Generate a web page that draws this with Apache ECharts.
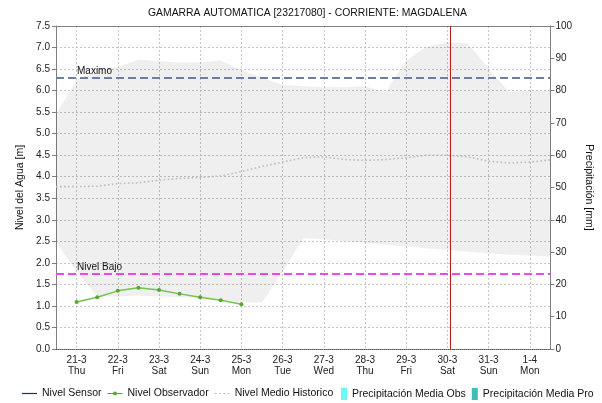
<!DOCTYPE html>
<html>
<head>
<meta charset="utf-8">
<title>GAMARRA AUTOMATICA [23217080]</title>
<script src="https://cdn.jsdelivr.net/npm/echarts@6/dist/echarts.min.js"></script>
<style>
  html, body { margin: 0; padding: 0; background: #fff; }
  #main { width: 602px; height: 403px; }
</style>
</head>
<body>
<div id="main"></div>
<script>
// Day ticks on the time axis (0 = 21-3) and their two-line labels
const dayTicks = [0, 1, 2, 3, 4, 5, 6, 7, 8, 9, 10, 11];
const dayLabels = ['21-3\nThu', '22-3\nFri', '23-3\nSat', '24-3\nSun', '25-3\nMon', '26-3\nTue',
                   '27-3\nWed', '28-3\nThu', '29-3\nFri', '30-3\nSat', '31-3\nSun', '1-4\nMon'];

// Historical statistics, sampled every half day
const histSteps = [-0.5, 0, 0.5, 1, 1.5, 2, 2.5, 3, 3.5, 4, 4.5, 5, 5.5,
                   6, 6.5, 7, 7.5, 8, 8.5, 9, 9.5, 10, 10.5, 11, 11.5];
const histUpper = [5.45, 6.25, 6.45, 6.55, 6.72, 6.68, 6.65, 6.66, 6.70, 6.48, 6.30, 6.13, 6.10,
                   6.08, 6.08, 6.10, 5.97, 6.70, 7.03, 7.12, 7.10, 6.51, 5.97, 6.00, 6.00];
const histLower = [2.49, 1.80, 1.22, 1.22, 1.24, 1.22, 1.20, 1.18, 1.12, 1.08, 1.08, 1.78, 2.57,
                   2.55, 2.50, 2.46, 2.42, 2.38, 2.34, 2.30, 2.26, 2.22, 2.19, 2.17, 2.14];
const histMean  = [3.77, 3.77, 3.78, 3.84, 3.86, 3.92, 3.96, 3.98, 4.02, 4.12, 4.24, 4.34, 4.44,
                   4.46, 4.40, 4.38, 4.40, 4.44, 4.50, 4.50, 4.46, 4.36, 4.32, 4.34, 4.39];

// Observer readings (twice a day)
const observerSteps  = [0, 0.5, 1, 1.5, 2, 2.5, 3, 3.5, 4];
const observerLevels = [1.09, 1.20, 1.35, 1.42, 1.37, 1.28, 1.20, 1.13, 1.04];

// Reference levels and current time marker
const maxLevel = 6.3;
const lowLevel = 1.75;
const nowStep = 9.08;

const pairs = (xs, ys) => xs.map((x, i) => [x, ys[i]]);

const FONT = '"Liberation Sans", Arial, sans-serif';
const gridLine = { color: '#c6c6c6', width: 1, type: [2, 2] };
const boxLine = { color: '#808080', width: 1 };

// Legend glyphs: plain line, line with dot, dotted line, slim bar
const iconLine = 'path://M0,5.4H15V6.6H0Z';
const iconLineDot = 'path://M0,5.4H5.6V6.6H0Z M9.4,5.4H15V6.6H9.4Z M5.5,6a2,2 0 1,0 4,0a2,2 0 1,0 -4,0Z';
const iconDotted = 'path://M0,5.4H2V6.6H0Z M4.3,5.4H6.3V6.6H4.3Z M8.6,5.4H10.6V6.6H8.6Z M12.9,5.4H15V6.6H12.9Z';
const iconBar = 'path://M0,0H6V12H0Z';

// Min/max historical envelope drawn as one polygon in data coordinates
function renderEnvelope(params, api) {
  const pts = [];
  for (let i = 0; i < histSteps.length; i++) pts.push(api.coord([histSteps[i], histUpper[i]]));
  for (let i = histSteps.length - 1; i >= 0; i--) pts.push(api.coord([histSteps[i], histLower[i]]));
  return {
    type: 'polygon',
    shape: { points: pts },
    style: { fill: 'rgba(0,0,0,0.062)' },
    silent: true
  };
}

const legendText = { fontSize: 10.5, color: '#111', fontFamily: FONT };

const chart = echarts.init(document.getElementById('main'), null, { renderer: 'canvas' });

chart.setOption({
  backgroundColor: '#ffffff',
  animation: false,
  textStyle: { fontFamily: FONT },
  title: {
    text: 'GAMARRA AUTOMATICA [23217080] - CORRIENTE: MAGDALENA',
    left: 148, top: 8, padding: 0,
    textStyle: { fontSize: 10.4, fontWeight: 'normal', color: '#111', fontFamily: FONT }
  },
  grid: { left: 56, right: 43, top: 26, bottom: 54, containLabel: false },
  legend: [
    {
      left: 22, top: 388, padding: 0,
      itemWidth: 15, itemHeight: 12, itemGap: 6,
      textStyle: legendText,
      data: [
        { name: 'Nivel Sensor', icon: iconLine },
        { name: 'Nivel Observador', icon: iconLineDot },
        { name: 'Nivel Medio Historico', icon: iconDotted }
      ]
    },
    {
      left: 341, top: 388, padding: 0,
      itemWidth: 6, itemHeight: 12, itemGap: 6,
      textStyle: legendText,
      data: [
        { name: 'Precipitación Media Obs', icon: iconBar },
        { name: 'Precipitación Media Pro', icon: iconBar }
      ]
    }
  ],
  xAxis: [
    {
      type: 'value', position: 'bottom', min: -0.5, max: 11.5,
      axisLine: { show: true, onZero: false, lineStyle: { color: '#555', width: 1, type: [1, 1] } },
      axisTick: { show: false, customValues: dayTicks },
      axisLabel: {
        customValues: dayTicks,
        formatter: v => dayLabels[Math.round(v)],
        fontSize: 10, color: '#222', lineHeight: 11.5, margin: 5, fontFamily: FONT
      },
      splitLine: { show: true, lineStyle: gridLine }
    },
    {
      type: 'value', position: 'top', min: -0.5, max: 11.5,
      axisLine: { show: true, onZero: false, lineStyle: boxLine },
      axisTick: { show: false }, axisLabel: { show: false }, splitLine: { show: false }
    }
  ],
  yAxis: [
    {
      type: 'value', position: 'left', min: 0, max: 7.5, interval: 0.5,
      name: 'Nivel del Agua [m]', nameLocation: 'middle', nameGap: 22, nameRotate: 90,
      nameTextStyle: { fontSize: 10.5, color: '#111', fontFamily: FONT },
      axisLine: { show: true, onZero: false, lineStyle: boxLine },
      axisTick: { show: true, length: 4, lineStyle: boxLine },
      axisLabel: { fontSize: 10, color: '#222', margin: 6, formatter: v => v.toFixed(1), fontFamily: FONT },
      splitLine: { show: true, lineStyle: gridLine }
    },
    {
      type: 'value', position: 'right', min: 0, max: 100, interval: 10,
      name: 'Precipitación [mm]', nameLocation: 'middle', nameGap: 26, nameRotate: -90,
      nameTextStyle: { fontSize: 10.5, color: '#111', fontFamily: FONT },
      axisLine: { show: true, onZero: false, lineStyle: boxLine },
      axisTick: { show: true, length: 4, lineStyle: boxLine },
      axisLabel: { fontSize: 10, color: '#222', margin: 5, fontFamily: FONT },
      splitLine: { show: false }
    }
  ],
  series: [
    {
      name: 'Rango Historico', type: 'custom',
      renderItem: renderEnvelope,
      data: [[histSteps[0], histLower[0]]],
      silent: true, z: 1
    },
    {
      name: 'Nivel Medio Historico', type: 'line',
      data: pairs(histSteps, histMean),
      symbol: 'none', showSymbol: false,
      itemStyle: { color: '#bdbdbd' },
      lineStyle: { color: '#bdbdbd', width: 1.6, type: [1.6, 2.4] }, z: 2
    },
    {
      name: 'Nivel Sensor', type: 'line', data: [],
      symbol: 'none',
      itemStyle: { color: '#1c2a80' },
      lineStyle: { color: '#1c2a80', width: 1.5 }
    },
    {
      name: 'Precipitación Media Obs', type: 'bar', yAxisIndex: 1, data: [],
      itemStyle: { color: '#6ff7f7' }
    },
    {
      name: 'Precipitación Media Pro', type: 'bar', yAxisIndex: 1, data: [],
      itemStyle: { color: '#3fbcbc' }
    },
    {
      name: 'Nivel Observador', type: 'line',
      data: pairs(observerSteps, observerLevels),
      symbol: 'circle', symbolSize: 4, showSymbol: true,
      itemStyle: { color: '#55a832' },
      lineStyle: { color: '#78c251', width: 1.5 },
      z: 4,
      markLine: {
        silent: true, symbol: 'none', animation: false,
        data: [
          {
            yAxis: maxLevel, name: 'Maximo',
            lineStyle: { color: '#717d9c', width: 2, type: [8, 4] },
            label: { show: true, formatter: 'Maximo', position: 'insideStartTop',
                     distance: [21, 1], color: '#111', fontSize: 10, fontFamily: FONT }
          },
          {
            yAxis: lowLevel, name: 'Nivel Bajo',
            lineStyle: { color: '#ee45ee', width: 2, type: [8, 4] },
            label: { show: true, formatter: 'Nivel Bajo', position: 'insideStartTop',
                     distance: [21, 1], color: '#111', fontSize: 10, fontFamily: FONT }
          },
          {
            xAxis: nowStep,
            lineStyle: { color: '#b81c1c', width: 1, type: 'solid' },
            label: { show: false }
          }
        ]
      }
    }
  ]
});
</script>
</body>
</html>
